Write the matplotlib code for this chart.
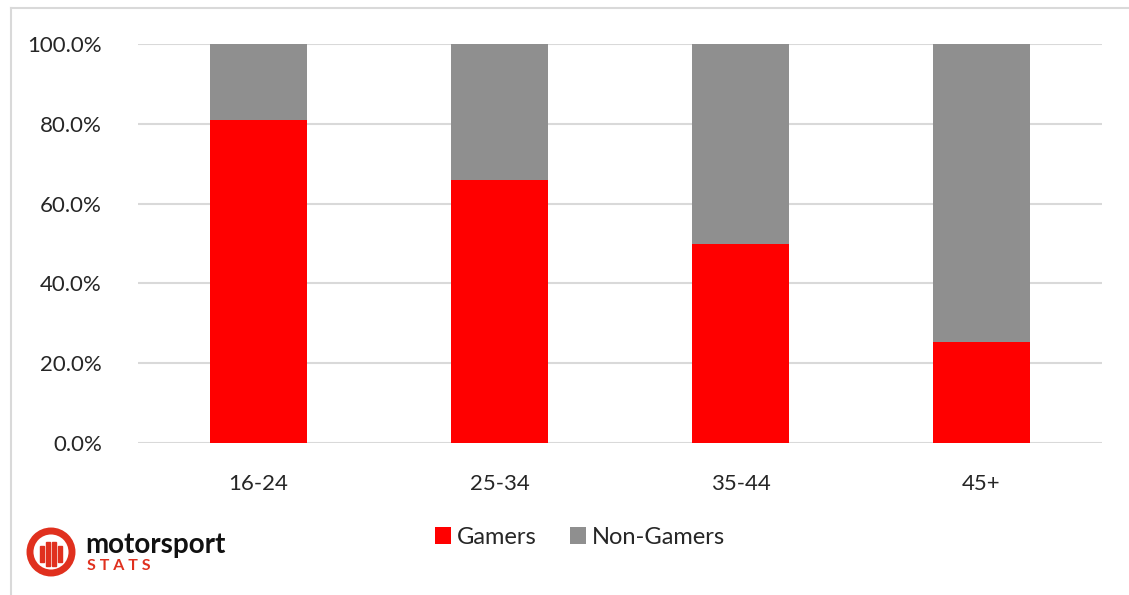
import numpy as np
import matplotlib.pyplot as plt
from matplotlib.patches import Circle, Rectangle
from matplotlib.lines import Line2D
from matplotlib.ticker import FuncFormatter

# data
age_groups = ["16-24", "25-34", "35-44", "45+"]
gamers = [81.0, 65.8, 49.9, 25.4]
non_gamers = [100 - g for g in gamers]

RED = "#ff0000"
GREY = "#8f8f8f"
TXT = "#262626"

plt.rcParams["font.family"] = ["Lato", "DejaVu Sans"]

fig = plt.figure(figsize=(11.29, 5.95), dpi=100)
W, H = 1129, 595

# light frame round the chart
fig.add_artist(Line2D([11 / W, 11 / W], [0, 1 - 8 / H], color="#d9d9d9", lw=1.5))
fig.add_artist(Line2D([11 / W, 1], [1 - 8 / H, 1 - 8 / H], color="#d9d9d9", lw=1.5))

ax = fig.add_axes([138 / W, 1 - 443 / H, (1102 - 138) / W, (443 - 44) / H])
x = np.arange(len(age_groups))
ax.bar(x, gamers, width=0.4, color=RED, label="Gamers", zorder=3)
ax.bar(x, non_gamers, width=0.4, bottom=gamers, color=GREY, label="Non-Gamers", zorder=3)

ax.set_xlim(-0.5, len(age_groups) - 0.5)
ax.set_ylim(0, 100)
ax.set_yticks(np.arange(0, 101, 20))
ax.yaxis.set_major_formatter(FuncFormatter(lambda v, p: f"{v:.1f}%"))
ax.set_xticks(x)
ax.set_xticklabels(age_groups)
ax.grid(axis="y", color="#d9d9d9", lw=1.5, zorder=0)
for s in ax.spines.values():
    s.set_visible(False)
ax.tick_params(length=0, labelsize=16, colors=TXT)
ax.tick_params(axis="y", pad=26)
ax.tick_params(axis="x", pad=22)

ax.legend(loc="center", bbox_to_anchor=(580 / W, 1 - 537 / H), bbox_transform=fig.transFigure,
          ncol=2, frameon=False, fontsize=17, handlelength=0.7, handleheight=0.7,
          handletextpad=0.25, columnspacing=1.4, labelcolor=TXT)

# motorsport stats logo
logo = fig.add_axes([(51 - 28) / W, 1 - (552 + 28) / H, 56 / W, 56 / H])
logo.set_xlim(-28, 28)
logo.set_ylim(-28, 28)
logo.set_aspect("equal")
logo.axis("off")
logo.add_patch(Circle((0, 0), 21, fill=False, ec="#e0301e", lw=5))
for bx, bh in zip([-9, -3, 3, 9], [16, 24, 24, 16]):
    logo.add_patch(Rectangle((bx - 1.6, -bh / 2 - 2), 3.2, bh, color="#e0301e"))

fig.text(85 / W, 1 - 545 / H, "motorsport", fontsize=20, fontweight="bold",
         color="#111111", va="center", ha="left")
fig.text(87 / W, 1 - 566 / H, "S T A T S", fontsize=11.5, fontweight="bold",
         color="#e0301e", va="center", ha="left")

fig.savefig("out.png", dpi=100, facecolor="white")
